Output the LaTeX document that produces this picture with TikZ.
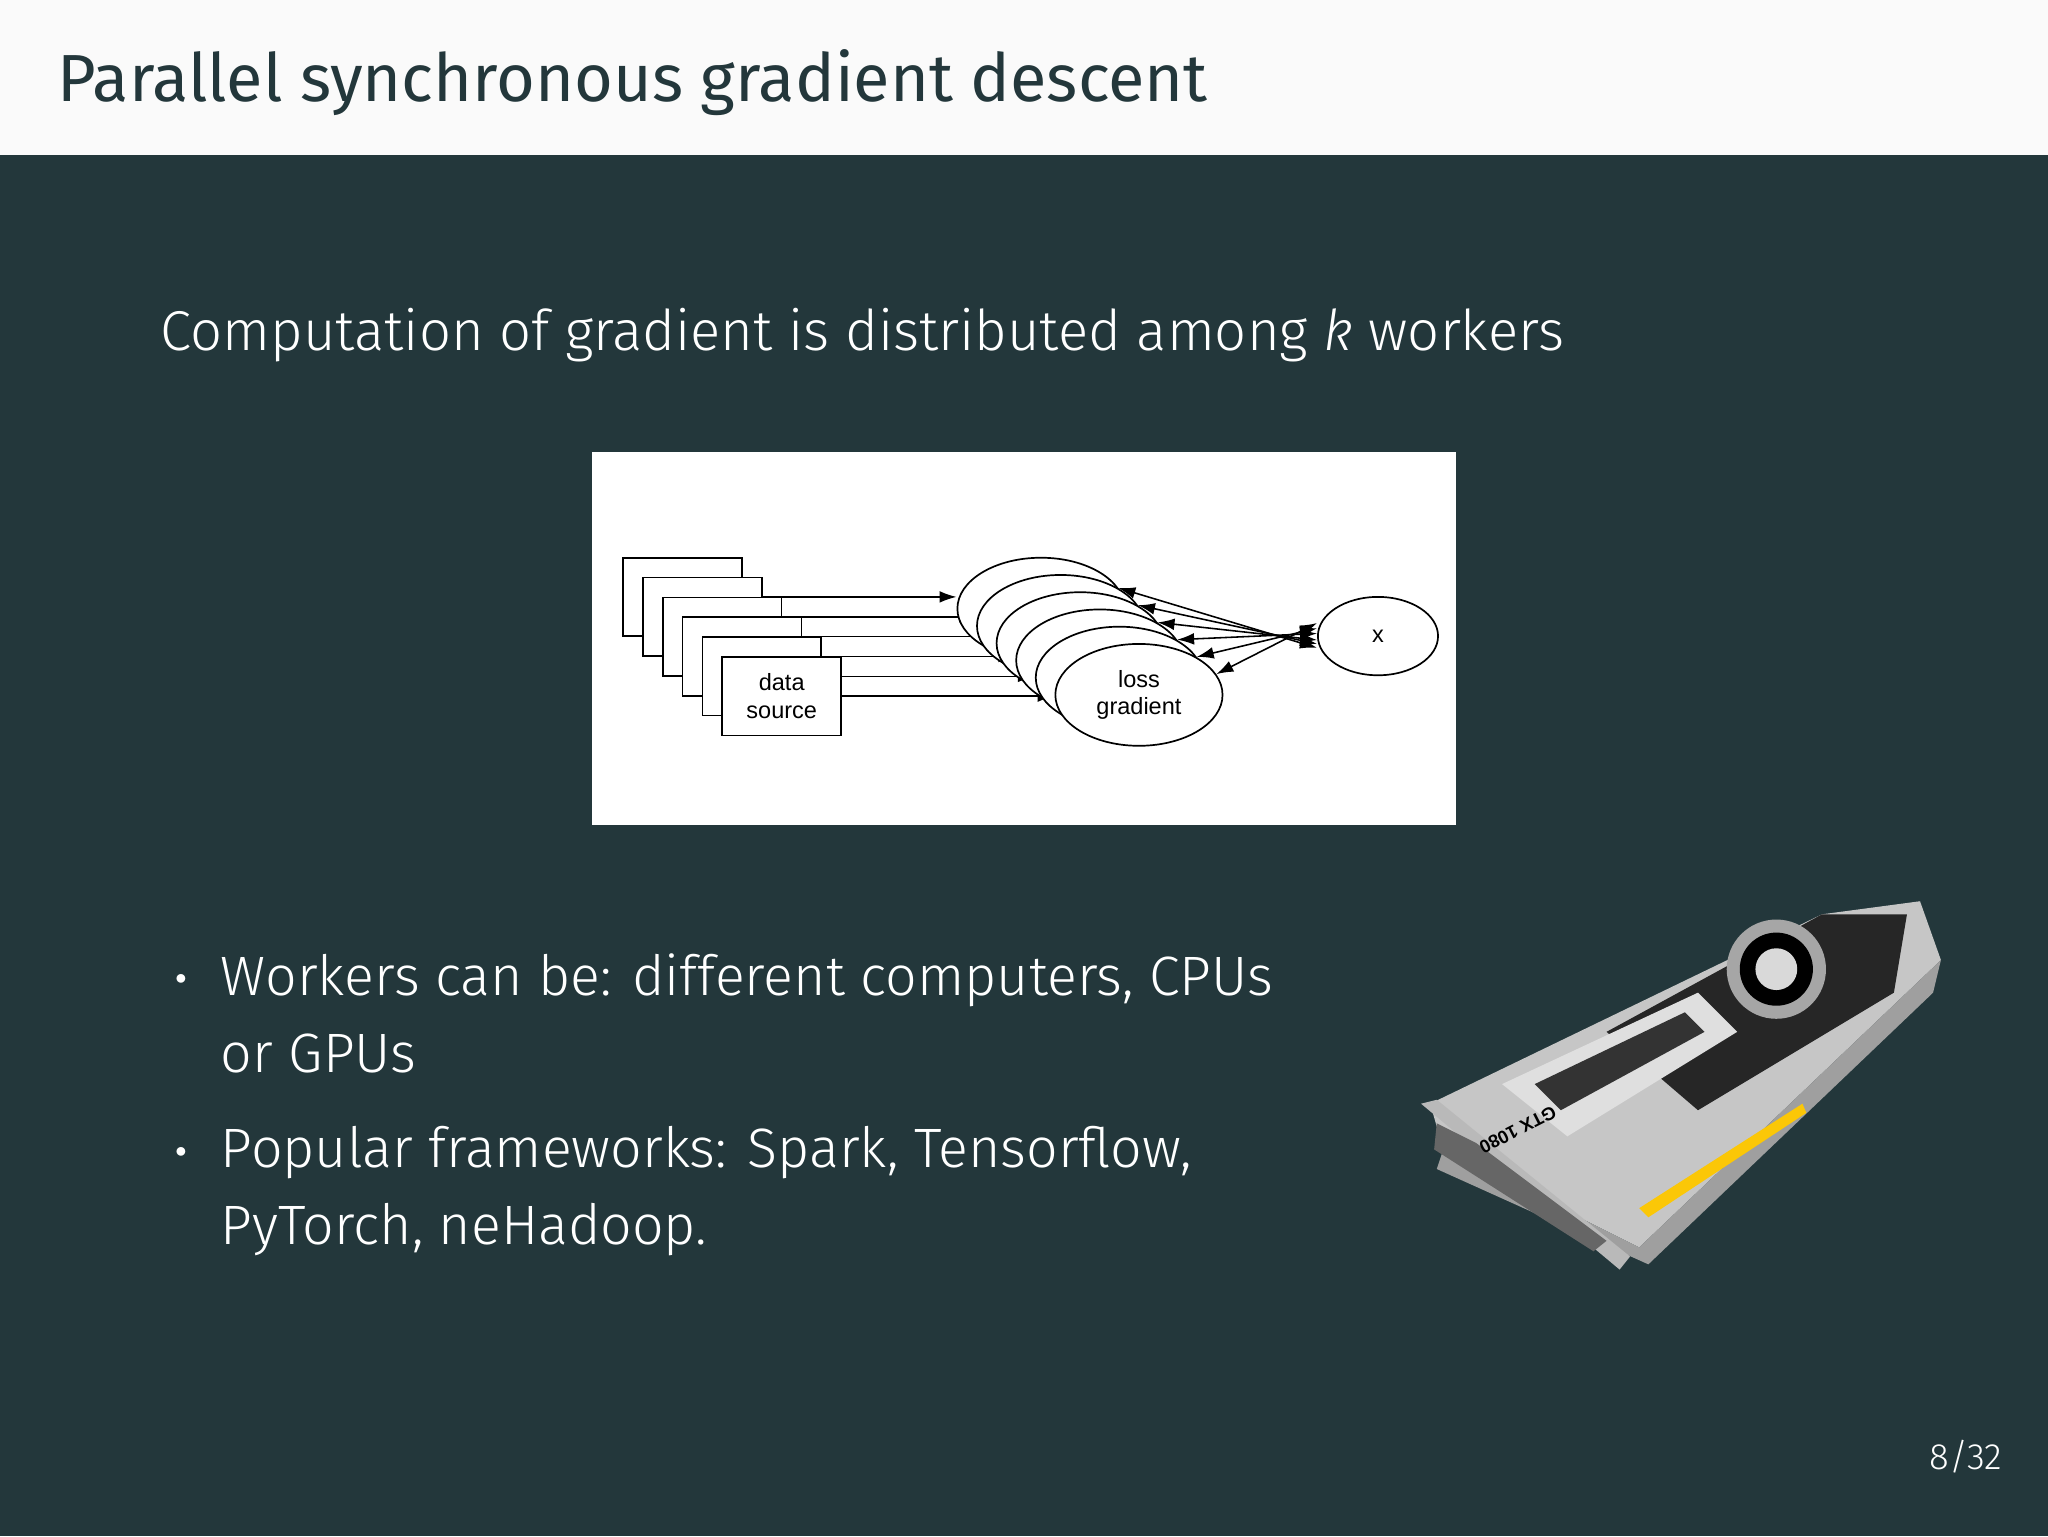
\documentclass[tikz,border=0pt]{standalone}
\usepackage{fontspec}
\setmainfont{Fira Sans Light}
\newfontfamily\firareg{Fira Sans}
\newfontfamily\helv{Liberation Sans}
\usetikzlibrary{arrows.meta,shapes.geometric}
\definecolor{mdark}{HTML}{23373B}
\definecolor{mlight}{HTML}{FAFAFA}
\tikzset{
 dsbox/.style={draw=black,fill=white,line width=1.3pt,minimum width=91pt,minimum height=60pt,inner sep=0pt,font=\helv\fontsize{18}{21}\selectfont,align=center},
 lgell/.style={draw=black,fill=white,line width=1.3pt,ellipse,minimum width=128pt,minimum height=78pt,inner sep=0pt,font=\helv\fontsize{18}{21}\selectfont,align=center},
 arr/.style={-{Latex[length=13pt,width=9pt]},line width=1.2pt},
 darr/.style={{Latex[length=13pt,width=9pt]}-{Latex[length=13pt,width=9pt]},line width=1.2pt},
 bigtxt/.style={text=white,anchor=base west,inner sep=0pt},
}
\begin{document}
\begin{tikzpicture}[x=1pt,y=-1pt]
\useasboundingbox (0,0) rectangle (1568,1176);
\fill[mdark] (0,0) rectangle (1568,1176);
\fill[mlight] (0,0) rectangle (1568,119);
\node[anchor=base west,inner sep=0pt,text=mdark,font=\firareg\fontsize{51}{60}\selectfont] (title) at (44,78) {Parallel synchronous gradient descent};
\node[bigtxt,font=\fontsize{43}{48}\selectfont] (sub) at (123,268) {Computation of gradient is distributed among \textit{k} workers};
% diagram
\fill[white] (453,346) rectangle (1115,632);
\foreach \i in {0,...,5}{
  \coordinate (bc\i) at ({522.5+15.2*\i},{457+15.2*\i});
  \coordinate (ec\i) at ({797+15*\i},{466+13.2*\i});
}
\foreach \i in {0,...,5}{
  \node[dsbox,draw=none,fill=none] (b\i) at (bc\i) {};
  \node[lgell,draw=none,fill=none] (e\i) at (ec\i) {};
}
\foreach \i in {0,...,5}{
  \draw[arr] (b\i.east) -- (b\i.east -| e\i.west);
}
\foreach \i in {0,...,4}{
  \node[dsbox] at (bc\i) {};
}
\node[dsbox] (ds) at (bc5) {data\\source};
\foreach \i in {0,...,4}{
  \node[lgell] at (ec\i) {};
}
\node[lgell] (lg) at (ec5) {loss\\gradient};
\node[draw=black,fill=white,line width=1.3pt,ellipse,minimum width=92pt,minimum height=60pt,font=\helv\fontsize{18}{20}\selectfont] (xn) at (1055,487) {x};
\foreach \i/\a/\o in {0/15/-9,1/15/-6,2/15/-3,3/15/2,4/15/6,5/15/10}{
  \draw[darr] (e\i.\a) -- ([yshift=\o pt]xn.west);
}
% GPU card
\fill[gray!45] (1095,845) -- (1395,700) -- (1470,690) -- (1486,735) -- (1255,955) -- (1105,880) -- cycle;
\fill[gray!75] (1105,880) -- (1255,955) -- (1486,735) -- (1480,760) -- (1262,968) -- (1100,895) -- cycle;
\fill[black!85] (1230,790) -- (1395,700) -- (1460,700) -- (1450,760) -- (1300,850) -- cycle;
\fill[gray!25] (1150,830) -- (1300,760) -- (1330,790) -- (1200,870) -- cycle;
\fill[black!80] (1175,830) -- (1290,775) -- (1305,790) -- (1195,850) -- cycle;
\fill[gray!70] (1360,742) circle (38);
\fill[black] (1360,742) circle (28);
\fill[gray!30] (1360,742) circle (16);
\fill[yellow!60!orange] (1255,925) -- (1380,845) -- (1383,852) -- (1262,932) -- cycle;
\fill[gray!55] (1088,845) -- (1100,842) -- (1248,962) -- (1240,972) -- cycle;
\fill[black!60] (1100,860) -- (1130,875) -- (1230,950) -- (1220,958) -- (1098,880) -- cycle;
\node[rotate=-153,text=black,font=\helv\bfseries\fontsize{14}{16}\selectfont] (gtx) at (1162,865) {GTX 1080};
% bullets
\node[bigtxt,font=\fontsize{18}{20}\selectfont] (d1) at (134,754) {$\bullet$};
\node[bigtxt,font=\fontsize{42.5}{48}\selectfont] (l1) at (169,762) {Workers can be: different computers, CPUs};
\node[bigtxt,font=\fontsize{42.5}{48}\selectfont] (l2) at (169,821) {or GPUs};
\node[bigtxt,font=\fontsize{18}{20}\selectfont] (d2) at (134,886) {$\bullet$};
\node[bigtxt,font=\fontsize{42.5}{48}\selectfont] (l3) at (169,894) {Popular frameworks: Spark, Tensorflow,};
\node[bigtxt,font=\fontsize{42.5}{48}\selectfont] (l4) at (169,953) {PyTorch, neHadoop.};
\node[text=white,anchor=base east,inner sep=0pt,font=\fontsize{28}{30}\selectfont] (pg) at (1533,1125) {8/32};
\end{tikzpicture}
\end{document}
